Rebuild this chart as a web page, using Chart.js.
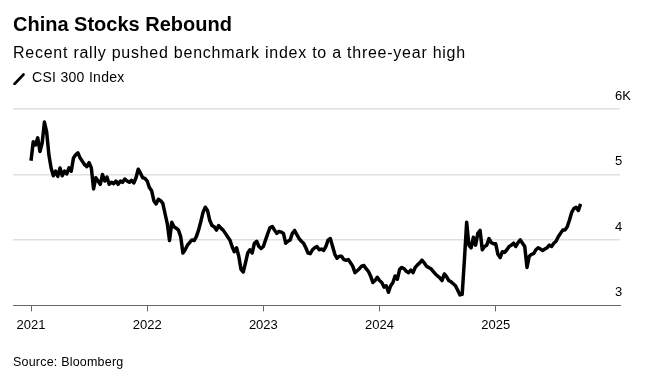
<!DOCTYPE html>
<html>
<head>
<meta charset="utf-8">
<script src="https://cdn.jsdelivr.net/npm/chart.js@4"></script>
<style>
  html, body { margin: 0; padding: 0; background: #fff; }
  body { width: 654px; height: 383px; position: relative; overflow: hidden; font-family: "Liberation Sans", Arial, sans-serif; color: #000; }
  #wrap { position: absolute; left: 0; top: 0; width: 654px; height: 383px; }
  .txt { position: absolute; left: 13px; white-space: nowrap; }
  #title { top: 13px; font-size: 20px; font-weight: bold; }
  #subtitle { top: 44px; font-size: 16px; letter-spacing: 0.75px; }
  #legend { top: 69px; font-size: 14px; letter-spacing: 0.3px; }
  #legend .icon { position: absolute; left: 0px; top: 4px; width: 12px; height: 12px; }
  #legend span { margin-left: 19px; }
  #source { top: 355px; font-size: 12.5px; letter-spacing: 0.2px; }
</style>
</head>
<body>
<div id="wrap"><canvas id="chart" width="654" height="383"></canvas></div>
<div class="txt" id="title">China Stocks Rebound</div>
<div class="txt" id="subtitle">Recent rally pushed benchmark index to a three-year high</div>
<div class="txt" id="legend"><svg class="icon" viewBox="0 0 12 12"><line x1="1.5" y1="11" x2="10.5" y2="1.5" stroke="#000" stroke-width="2.6" stroke-linecap="round"/></svg><span>CSI 300 Index</span></div>
<div class="txt" id="source">Source: Bloomberg</div>
<script>
// CSI 300 weekly closes, one array per calendar year
const y2021 = [5210, 5500, 5450, 5560, 5350, 5480, 5800, 5650, 5300, 5100, 4980, 5050, 4970, 5100, 4980, 5050,
  5010, 5100, 5050, 5250, 5300, 5330, 5250, 5200, 5150, 5120, 5180, 5100, 4780, 4950, 4900, 4850,
  5000, 4900, 4960, 4850, 4880, 4860, 4900, 4850, 4900, 4880, 4930, 4900, 4880, 4910, 4870, 4950,
  5080, 5020, 4950, 4940];
const y2022 = [4900, 4800, 4750, 4600, 4550, 4620, 4600, 4560, 4400, 4250, 3990, 4270, 4200, 4180, 4150, 4050,
  3800, 3850, 3920, 3960, 4000, 3990, 4050, 4150, 4280, 4420, 4500, 4450, 4300, 4220, 4200, 4150,
  4220, 4180, 4150, 4100, 4050, 4000, 3900, 3820, 3880, 3750, 3550, 3510, 3650, 3800, 3850, 3800,
  3950, 3980, 3900, 3870];
const y2023 = [3900, 4000, 4100, 4190, 4205, 4150, 4100, 4130, 4120, 4100, 3950, 3980, 4000, 4100, 4145, 4080,
  4020, 3980, 3950, 3880, 3800, 3790, 3850, 3880, 3900, 3850, 3860, 3840, 3900, 4000, 4020, 3900,
  3780, 3720, 3750, 3750, 3700, 3690, 3700, 3650, 3600, 3500, 3530, 3560, 3600, 3610, 3560, 3520,
  3450, 3350, 3380, 3430];
const y2024 = [3380, 3350, 3280, 3300, 3200, 3300, 3350, 3450, 3400, 3550, 3580, 3560, 3520, 3500, 3540, 3500,
  3580, 3620, 3650, 3690, 3650, 3600, 3580, 3560, 3520, 3480, 3450, 3420, 3380, 3480, 3440, 3380,
  3360, 3330, 3300, 3230, 3160, 3170, 3700, 4270, 3920, 3880, 4040, 3920, 4100, 4145, 3850, 3900,
  3920, 4020, 3960, 3940];
const y2025 = [3940, 3780, 3730, 3820, 3810, 3850, 3900, 3920, 3950, 3900, 3960, 4000, 3950, 3900, 3580, 3750,
  3780, 3790, 3850, 3880, 3860, 3840, 3860, 3880, 3920, 3900, 3950, 3980, 4050, 4100, 4150, 4150,
  4200, 4300, 4420, 4480, 4500, 4450, 4550];

const years = [2021, 2022, 2023, 2024, 2025];
const yearlyValues = [y2021, y2022, y2023, y2024, y2025];
const yTicks = [3000, 4000, 5000, 6000];
const yTickLabels = ['3', '4', '5', '6K'];
const xTickLabels = ['2021', '2022', '2023', '2024', '2025'];

// place each weekly close at its position within the year
const points = [];
years.forEach((yr, i) => {
    yearlyValues[i].forEach((v, w) => {
        points.push({ x: yr + w / 52, y: v });
    });
});

const ctx = document.getElementById('chart');
new Chart(ctx, {
    type: 'line',
    data: {
        datasets: [{
            label: 'CSI 300 Index',
            data: points,
            borderColor: '#000',
            borderWidth: 3.5,
            pointRadius: 0,
            tension: 0,
            borderJoinStyle: 'round'
        }]
    },
    options: {
        responsive: false,
        animation: false,
        layout: { padding: { left: 13, right: 12, top: 109, bottom: 44 } },
        plugins: { legend: { display: false }, tooltip: { enabled: false } },
        scales: {
            x: {
                type: 'linear',
                min: 2020.845,
                max: 2026.07,
                afterBuildTicks: axis => { axis.ticks = years.map(v => ({ value: v })); },
                grid: { drawOnChartArea: false, drawTicks: true, tickLength: 6, color: '#666', lineWidth: 1 },
                border: { display: true, color: '#666', width: 1 },
                ticks: {
                    padding: 6,
                    color: '#000',
                    font: { family: 'Liberation Sans', size: 13 },
                    maxRotation: 0,
                    callback: (value) => xTickLabels[years.indexOf(value)]
                }
            },
            y: {
                position: 'right',
                min: 3000,
                max: 6000,
                afterBuildTicks: axis => { axis.ticks = yTicks.map(v => ({ value: v })); },
                grid: {
                    drawTicks: false,
                    color: c => (c.tick && c.tick.value === 3000) ? 'rgba(0,0,0,0)' : '#e0e0e0',
                    lineWidth: 1.5
                },
                border: { display: false },
                ticks: {
                    mirror: true,
                    crossAlign: 'far',
                    padding: 11,
                    labelOffset: -13,
                    color: '#000',
                    font: { family: 'Liberation Sans', size: 13 },
                    callback: (value) => yTickLabels[yTicks.indexOf(value)]
                }
            }
        }
    }
});
</script>
</body>
</html>
